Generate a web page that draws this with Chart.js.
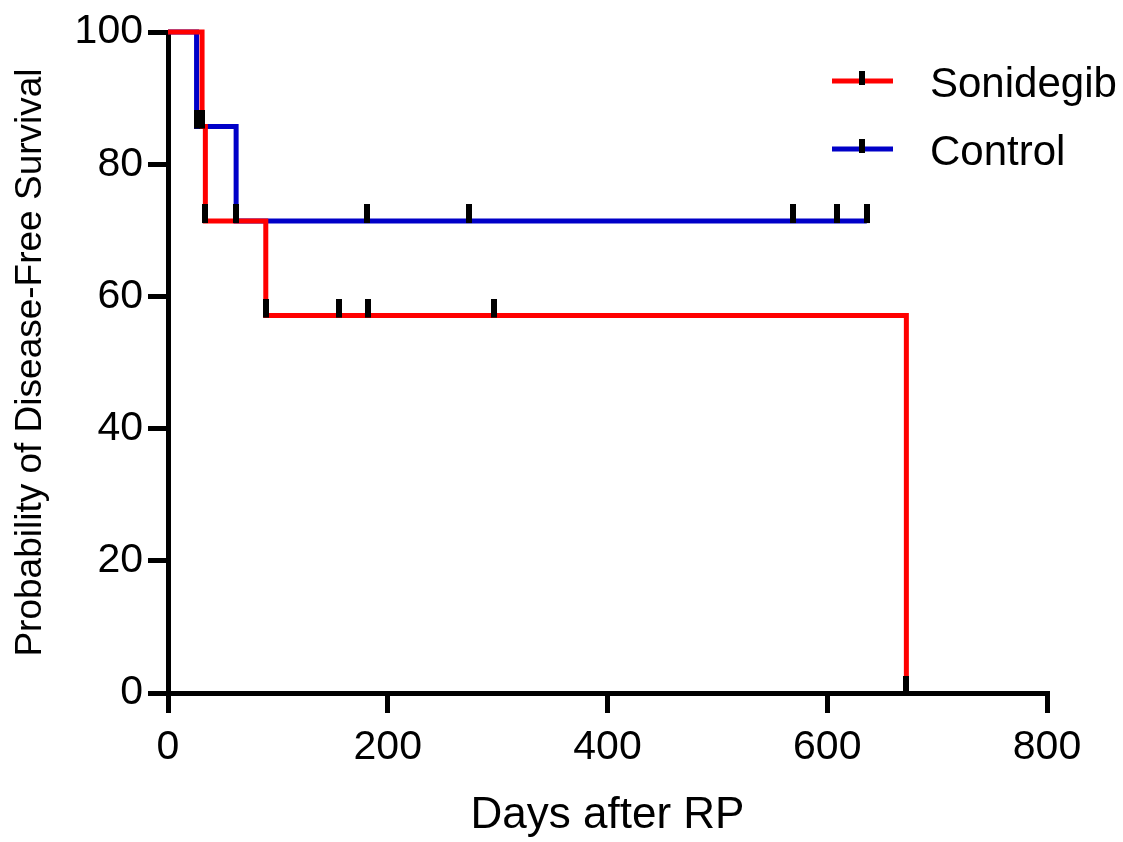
<!DOCTYPE html>
<html>
<head>
<meta charset="utf-8">
<script src="https://cdn.jsdelivr.net/npm/chart.js@4.4.0/dist/chart.umd.min.js"></script>
<style>
  html, body { margin: 0; padding: 0; background: #fff; }
  #wrap { width: 1123px; height: 842px; position: relative; }
</style>
</head>
<body>
<div id="wrap"><canvas id="kmChart" width="1123" height="842"></canvas></div>
<script>
// Kaplan-Meier data
const sonidegibDays = [0, 31, 34, 89, 672];
const sonidegibSurv = [100, 85.7, 71.4, 57.1, 0];
const sonidegibCensorDays = [31, 34, 89, 156, 182, 297, 672];
const sonidegibCensorSurv = [85.7, 71.4, 57.1, 57.1, 57.1, 57.1, 0];

const controlDays = [0, 26, 62, 636];
const controlSurv = [100, 85.7, 71.4, 71.4];
const controlCensorDays = [26, 62, 181, 274, 569, 609, 636];
const controlCensorSurv = [85.7, 71.4, 71.4, 71.4, 71.4, 71.4, 71.4];

const xTicks = [0, 200, 400, 600, 800];
const yTicks = [0, 20, 40, 60, 80, 100];

const seriesNames = ['Sonidegib', 'Control'];
const seriesColors = ['#ff0000', '#0000c8'];

const FONT = '"Liberation Sans", Arial, sans-serif';

function toPoints(xs, ys) {
    return xs.map((x, i) => ({ x: x, y: ys[i] }));
}

// censor mark: black bar sitting mostly above the curve
function makeCensorMark() {
    const c = document.createElement('canvas');
    c.width = 6;
    c.height = 34;
    const g = c.getContext('2d');
    g.fillStyle = '#000';
    g.fillRect(0, 0, 6, 19);
    return c;
}
const censorMark = makeCensorMark();

const legendPlugin = {
    id: 'kmLegend',
    afterDraw(chart) {
        const ctx = chart.ctx;
        const rows = [81, 149];
        ctx.save();
        rows.forEach((y, i) => {
            ctx.strokeStyle = seriesColors[i];
            ctx.lineWidth = 5;
            ctx.beginPath();
            ctx.moveTo(832, y);
            ctx.lineTo(893, y);
            ctx.stroke();
            ctx.fillStyle = '#000';
            ctx.fillRect(859, y - 10, 6, 14);
            ctx.font = '42px ' + FONT;
            ctx.textBaseline = 'alphabetic';
            ctx.textAlign = 'left';
            ctx.fillText(seriesNames[i], 930, y + 16);
        });
        ctx.restore();
    }
};

const ctx = document.getElementById('kmChart');
new Chart(ctx, {
    type: 'line',
    data: {
        datasets: [
            {
                label: 'Sonidegib censored',
                data: toPoints(sonidegibCensorDays, sonidegibCensorSurv),
                showLine: false,
                pointStyle: censorMark,
                pointRadius: 10,
                clip: false
            },
            {
                label: 'Control censored',
                data: toPoints(controlCensorDays, controlCensorSurv),
                showLine: false,
                pointStyle: censorMark,
                pointRadius: 10,
                clip: false
            },
            {
                label: seriesNames[0],
                data: toPoints(sonidegibDays, sonidegibSurv),
                borderColor: seriesColors[0],
                borderWidth: 5,
                stepped: 'before',
                pointRadius: 0,
                fill: false,
                borderJoinStyle: 'miter',
                clip: false
            },
            {
                label: seriesNames[1],
                data: toPoints(controlDays, controlSurv),
                borderColor: seriesColors[1],
                borderWidth: 5,
                stepped: 'before',
                pointRadius: 0,
                fill: false,
                borderJoinStyle: 'miter',
                clip: false
            }
        ]
    },
    options: {
        responsive: false,
        animation: false,
        layout: {
            padding: { top: 32, right: 76, left: 0, bottom: 0 }
        },
        plugins: {
            legend: { display: false },
            tooltip: { enabled: false }
        },
        scales: {
            x: {
                type: 'linear',
                min: 0,
                max: 800,
                afterBuildTicks: function(scale) {
                    scale.ticks = xTicks.map(v => ({ value: v }));
                },
                afterFit: function(scale) {
                    scale.height = 149;
                },
                grid: {
                    drawOnChartArea: false,
                    drawTicks: true,
                    tickLength: 20,
                    color: '#000',
                    lineWidth: 5
                },
                border: { display: true, color: '#000', width: 5 },
                ticks: {
                    color: '#000',
                    padding: 10,
                    font: { family: FONT, size: 41 }
                },
                title: {
                    display: true,
                    text: 'Days after RP',
                    color: '#000',
                    padding: { top: 0, bottom: 0 },
                    font: { family: FONT, size: 44, lineHeight: 1.2 }
                }
            },
            y: {
                type: 'linear',
                min: 0,
                max: 100,
                afterBuildTicks: function(scale) {
                    scale.ticks = yTicks.map(v => ({ value: v }));
                },
                afterFit: function(scale) {
                    scale.width = 168;
                },
                grid: {
                    drawOnChartArea: false,
                    drawTicks: true,
                    tickLength: 20,
                    color: '#000',
                    lineWidth: 5
                },
                border: { display: true, color: '#000', width: 5 },
                ticks: {
                    color: '#000',
                    padding: 5,
                    font: { family: FONT, size: 41 }
                },
                title: {
                    display: true,
                    text: 'Probability of Disease-Free Survival',
                    color: '#000',
                    padding: { top: 9, bottom: 0 },
                    font: { family: FONT, size: 37, lineHeight: 1.2 }
                }
            }
        }
    },
    plugins: [legendPlugin]
});
</script>
</body>
</html>
